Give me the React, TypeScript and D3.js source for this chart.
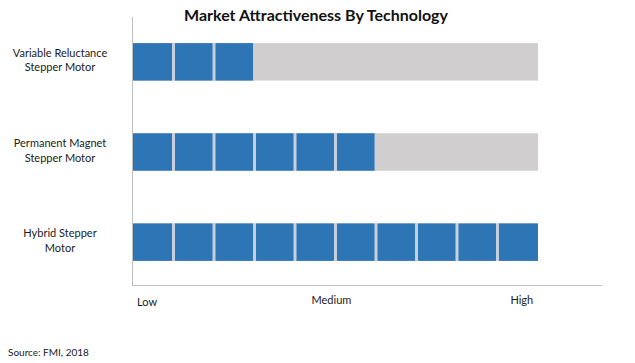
import React from "react";
import * as d3 from "d3";

const categories: string[][] = [
  ["Variable Reluctance", "Stepper Motor"],
  ["Permanent Magnet", "Stepper Motor"],
  ["Hybrid Stepper", "Motor"],
];
const values: number[] = [3, 6, 10];
const maxValue = 10;
const tickLabels: string[] = ["Low", "Medium", "High"];
const tickPositions: number[] = [0.1, 4.9, 9.6];

const W = 635;
const H = 363;

export default function App() {
  const x = d3.scaleLinear().domain([0, maxValue]).range([133, 538]);
  const y = d3
    .scaleBand<number>()
    .domain(d3.range(categories.length))
    .range([17, 287])
    .paddingInner(0.585)
    .paddingOuter(0.29);
  const step = x(1) - x(0);
  const gap = 3;
  const font = "Lato, 'Open Sans', sans-serif";

  return (
    <svg
      width={W}
      height={H}
      style={{ position: "absolute", left: 0, top: 0, background: "#fff" }}
    >
      <text
        x={316}
        y={21}
        textAnchor="middle"
        fontFamily={font}
        fontWeight="bold"
        fontSize={16}
        fill="#111"
      >
        Market Attractiveness By Technology
      </text>
      {categories.map((cat, i) => {
        const y0 = y(i)!;
        const bh = y.bandwidth();
        const v = values[i];
        return (
          <g key={i}>
            <rect x={x(0)} y={y0} width={x(maxValue) - x(0)} height={bh} fill="#d0cece" />
            <rect x={x(0)} y={y0} width={x(v) - x(0)} height={bh} fill="#c6cfdc" />
            {d3.range(v).map((k) => (
              <rect
                key={k}
                x={x(k) + (k === 0 ? 0 : gap / 2)}
                y={y0}
                width={step - (k === 0 ? gap / 2 : gap) + (k === maxValue - 1 ? gap / 2 : 0)}
                height={bh}
                fill="#2e75b6"
              />
            ))}
            {cat.map((line, j) => (
              <text
                key={j}
                x={60}
                y={y0 + bh / 2 - 5 + j * 14.5}
                textAnchor="middle"
                fontFamily={font}
                fontSize={11}
                fill="#1a1a1a"
              >
                {line}
              </text>
            ))}
          </g>
        );
      })}
      <line x1={132.5} x2={132.5} y1={17} y2={286} stroke="#bfbfbf" strokeWidth={1} />
      <line x1={132} x2={602} y1={285.5} y2={285.5} stroke="#bfbfbf" strokeWidth={1} />
      {tickLabels.map((t, i) => (
        <text
          key={t}
          x={x(tickPositions[i])}
          y={i === 0 ? 306 : 304}
          textAnchor={i === 0 ? "start" : "middle"}
          fontFamily={font}
          fontSize={11}
          fill="#1a1a1a"
        >
          {t}
        </text>
      ))}
      <text x={8} y={356} fontFamily={font} fontSize={10} fill="#1a1a1a">
        Source: FMI, 2018
      </text>
    </svg>
  );
}
